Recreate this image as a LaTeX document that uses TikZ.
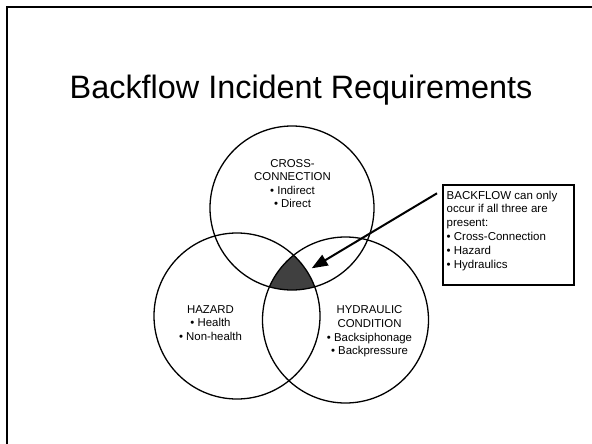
\documentclass[tikz,border=0pt]{standalone}
\usepackage{fontspec}
\setmainfont{Liberation Sans}
\usetikzlibrary{arrows.meta}
\begin{document}
\begin{tikzpicture}[x=1pt,y=-1pt,
  venn/.style={draw=black, line width=1.3pt},
  lbl/.style={align=center, inner sep=0pt, font=\fontsize{11.4}{13.6}\selectfont},
  boxlbl/.style={align=left, inner sep=0pt, font=\fontsize{11.5}{13.8}\selectfont},
  notebox/.style={draw=black, line width=2pt, minimum width=131pt, minimum height=100pt, inner sep=0pt},
  pointer/.style={line width=2pt, -{Triangle[length=16pt,width=12pt]}},
  ]
\useasboundingbox (0,0) rectangle (592,444);
\fill[white] (0,0) rectangle (592,444);
\draw[line width=2.3pt] (7,444) -- (7,7) -- (592,7);
\node[anchor=base west, inner sep=0pt, font=\fontsize{32.4}{38}\selectfont] (title) at (69.5,98.3) {Backflow Incident Requirements};

\coordinate (cc) at (292,208);
\coordinate (hc) at (237,316);
\coordinate (yc) at (345.5,320);

\begin{scope}
  \clip (cc) circle[radius=82pt];
  \clip (hc) circle[radius=83pt];
  \fill[black!75] (yc) circle[radius=83pt];
\end{scope}
\draw[venn] (cc) circle[radius=82pt];
\draw[venn] (hc) circle[radius=83pt];
\draw[venn] (yc) circle[radius=83pt];

\node[lbl] (crosslbl) at (292.5,183.5) {CROSS-\\CONNECTION\\• Indirect\\• Direct};
\node[lbl] (hazlbl) at (210.5,323) {HAZARD\\• Health\\• Non-health};
\node[lbl] (hydlbl) at (369.5,331.5) {HYDRAULIC\\CONDITION\\• Backsiphonage\\• Backpressure};

\node[notebox, anchor=north west] (box) at (441.7,184) {};
\node[boxlbl, anchor=north west] (boxtext) at (446.5,190.5) {BACKFLOW can only\\occur if all three are\\present:\\• Cross-Connection\\• Hazard\\• Hydraulics};

\coordinate (astart) at (437,193.3);
\coordinate (atip) at (311.7,268.3);
\draw[pointer] (astart) -- (atip);
\end{tikzpicture}
\end{document}
